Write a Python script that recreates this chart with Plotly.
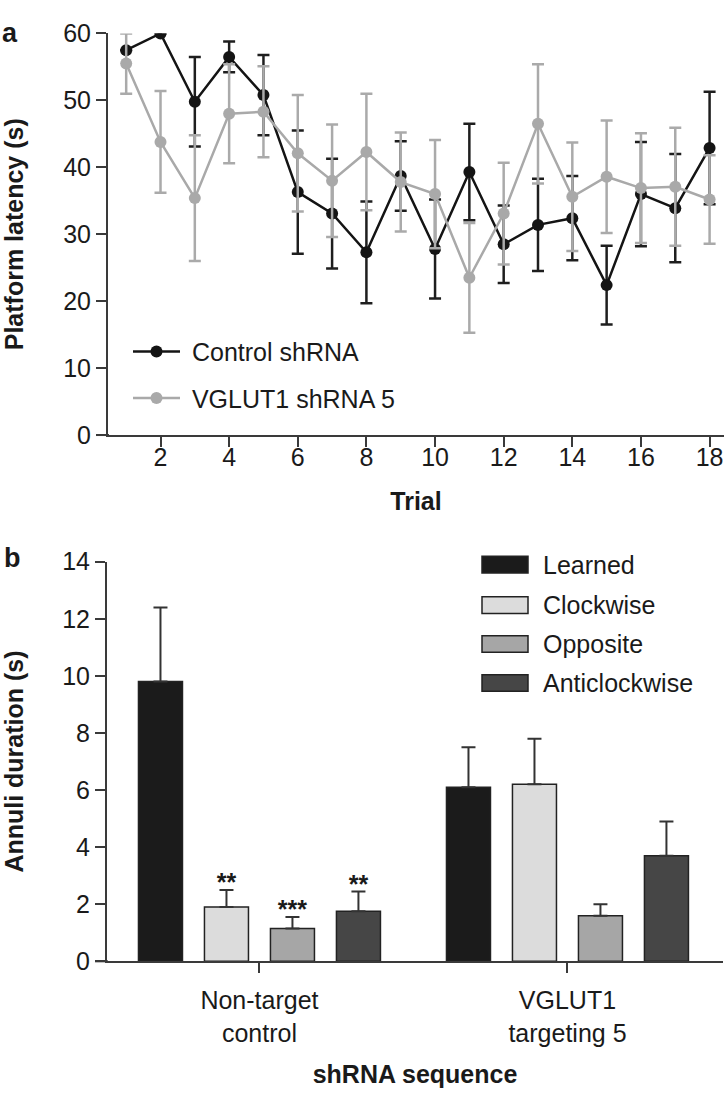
import plotly.graph_objects as go

W, H = 727, 1103

# ---------------- Panel a data ----------------
trials = list(range(1, 19))
control_mean = [57.5, 60.0, 49.8, 56.5, 50.8, 36.3, 33.1, 27.3, 38.7, 27.8, 39.3, 28.5, 31.4, 32.4, 22.4, 36.0, 33.9, 42.9]
control_err = [0.0, 0.0, 6.7, 2.3, 6.0, 9.2, 8.2, 7.6, 5.2, 7.4, 7.2, 5.8, 6.9, 6.3, 5.9, 7.8, 8.1, 8.4]
vglut_mean = [55.5, 43.8, 35.4, 48.0, 48.3, 42.1, 38.0, 42.3, 37.8, 36.0, 23.5, 33.1, 46.5, 35.6, 38.6, 36.9, 37.1, 35.2]
vglut_err = [4.5, 7.6, 9.4, 7.4, 6.8, 8.7, 8.4, 8.7, 7.4, 8.1, 8.2, 7.6, 8.9, 8.1, 8.4, 8.2, 8.8, 6.6]
series_a_names = ["Control shRNA", "VGLUT1 shRNA 5"]
trial_ticks = [2, 4, 6, 8, 10, 12, 14, 16, 18]

# ---------------- Panel b data ----------------
groups = ["Non-target<br>control", "VGLUT1<br>targeting 5"]
quadrants = ["Learned", "Clockwise", "Opposite", "Anticlockwise"]
annuli_mean = {
    "Learned": [9.8, 6.1],
    "Clockwise": [1.9, 6.2],
    "Opposite": [1.15, 1.6],
    "Anticlockwise": [1.75, 3.7],
}
annuli_err = {
    "Learned": [2.6, 1.4],
    "Clockwise": [0.6, 1.6],
    "Opposite": [0.4, 0.4],
    "Anticlockwise": [0.7, 1.2],
}
stars = {
    "Learned": ["", ""],
    "Clockwise": ["**", ""],
    "Opposite": ["***", ""],
    "Anticlockwise": ["**", ""],
}
quad_colors = {
    "Learned": "#1b1b1b",
    "Clockwise": "#dcdcdc",
    "Opposite": "#a6a6a6",
    "Anticlockwise": "#464646",
}

FONT = "Liberation Sans, Arial, sans-serif"
TXT = "#1a1a1a"
AX = "#3a3a3a"
FS = 25
NB = "\u00a0"


def px(x):
    return x / W


def py(y):
    return 1 - y / H


fig = go.Figure()

# Panel a traces
fig.add_trace(go.Scatter(
    x=trials, y=control_mean, name=NB + series_a_names[0], mode="lines+markers",
    line=dict(color="#141414", width=2.5),
    marker=dict(color="#141414", size=12),
    error_y=dict(type="data", array=control_err, color="#1e1e1e", thickness=2.5, width=6),
    xaxis="x", yaxis="y", legendgroup="c",
))
fig.add_trace(go.Scatter(
    x=trials, y=vglut_mean, name=NB + series_a_names[1], mode="lines+markers",
    line=dict(color="#a9a9a9", width=2.5),
    marker=dict(color="#a9a9a9", size=12),
    error_y=dict(type="data", array=vglut_err, color="#aaaaaa", thickness=2.5, width=6),
    xaxis="x", yaxis="y", legendgroup="v",
))

# Panel b bars
bargap = 0.143
for q in quadrants:
    fig.add_trace(go.Bar(
        x=[0, 1], y=annuli_mean[q], name=q,
        marker=dict(color=quad_colors[q], line=dict(color="#222222", width=1.5)),
        error_y=dict(type="data", symmetric=False, array=annuli_err[q], arrayminus=[0, 0],
                     color="#333333", thickness=2, width=7),
        xaxis="x2", yaxis="y2", showlegend=False,
    ))

# significance stars, positioned over each bar slot
slot = (1 - bargap) / len(quadrants)
star_pad = 0.17
for i, q in enumerate(quadrants):
    xs, ys, ts = [], [], []
    for g in range(len(groups)):
        if stars[q][g]:
            xs.append(g + (i - 1.5) * slot)
            ys.append(annuli_mean[q][g] + annuli_err[q][g] + star_pad)
            ts.append("<b>" + stars[q][g] + "</b>")
    if xs:
        fig.add_trace(go.Scatter(
            x=xs, y=ys, text=ts, mode="text", textposition="middle center",
            textfont=dict(family=FONT, size=25, color=TXT),
            xaxis="x2", yaxis="y2", showlegend=False, hoverinfo="skip",
        ))

axis_common = dict(
    showline=True, linecolor=AX, linewidth=2, ticks="outside", ticklen=10,
    tickwidth=2, tickcolor=AX, showgrid=False, zeroline=False,
    tickfont=dict(family=FONT, size=FS, color=TXT),
)

fig.update_layout(
    width=W, height=H, autosize=False,
    margin=dict(l=0, r=0, t=0, b=0),
    paper_bgcolor="white", plot_bgcolor="white",
    font=dict(family=FONT, size=FS, color=TXT),
    barmode="group", bargap=bargap, bargroupgap=0.333,
    xaxis=dict(domain=[px(108), px(724)], range=[0.47, 18.42], tickvals=trial_ticks,
               ticklabelstandoff=-11,
               title=dict(text="<b>Trial</b>", font=dict(family=FONT, size=FS, color=TXT), standoff=22),
               anchor="y", **axis_common),
    yaxis=dict(domain=[py(432), py(20)], range=[0, 60], dtick=10,
               title=dict(text="<b>Platform latency (s)</b>", font=dict(family=FONT, size=FS, color=TXT), standoff=33),
               anchor="x", **axis_common),
    xaxis2=dict(domain=[px(107), px(723)], range=[-0.495, 1.505], tickvals=[0, 1], ticktext=groups,
                ticklabelstandoff=6,
                title=dict(text="<b>shRNA sequence</b>", font=dict(family=FONT, size=FS, color=TXT), standoff=20),
                anchor="y2", **axis_common),
    yaxis2=dict(domain=[py(972), py(562)], range=[0, 14], dtick=2,
                title=dict(text="<b>Annuli duration (s)</b>", font=dict(family=FONT, size=FS, color=TXT), standoff=33),
                anchor="x2", **axis_common),
    legend=dict(x=px(128), y=py(323), xanchor="left", yanchor="top",
                font=dict(family=FONT, size=FS, color=TXT), bgcolor="rgba(0,0,0,0)",
                itemwidth=47, tracegroupgap=11),
    showlegend=True,
)

# x-axis lines extending slightly left of the y-axes
fig.add_shape(type="line", xref="paper", yref="paper", x0=px(96), x1=px(109), y0=py(432), y1=py(432),
              line=dict(color=AX, width=2))
fig.add_shape(type="line", xref="paper", yref="paper", x0=px(95), x1=px(108), y0=py(972), y1=py(972),
              line=dict(color=AX, width=2))

# Panel letters
fig.add_annotation(text="<b>a</b>", x=px(0), y=py(20), xref="paper", yref="paper",
                   xanchor="left", yanchor="middle", showarrow=False,
                   font=dict(family=FONT, size=27, color=TXT))
fig.add_annotation(text="<b>b</b>", x=px(2), y=py(558), xref="paper", yref="paper",
                   xanchor="left", yanchor="middle", showarrow=False,
                   font=dict(family=FONT, size=27, color=TXT))

# Custom legend for panel b (wide swatches)
leg_rows = [565, 606.5, 646.5, 686.5]
for q, cy in zip(quadrants, leg_rows):
    fig.add_shape(type="rect", xref="paper", yref="paper",
                  x0=px(482), x1=px(528), y0=py(cy + 8.5), y1=py(cy - 8.5),
                  fillcolor=quad_colors[q], line=dict(color="#222222", width=1.5))
    fig.add_annotation(text=q, x=px(541), y=py(cy), xref="paper", yref="paper",
                       xanchor="left", yanchor="middle", showarrow=False,
                       font=dict(family=FONT, size=FS, color=TXT))

fig.write_html("out.html", config={"displayModeBar": False},
               post_script="document.body.style.margin='0';")
